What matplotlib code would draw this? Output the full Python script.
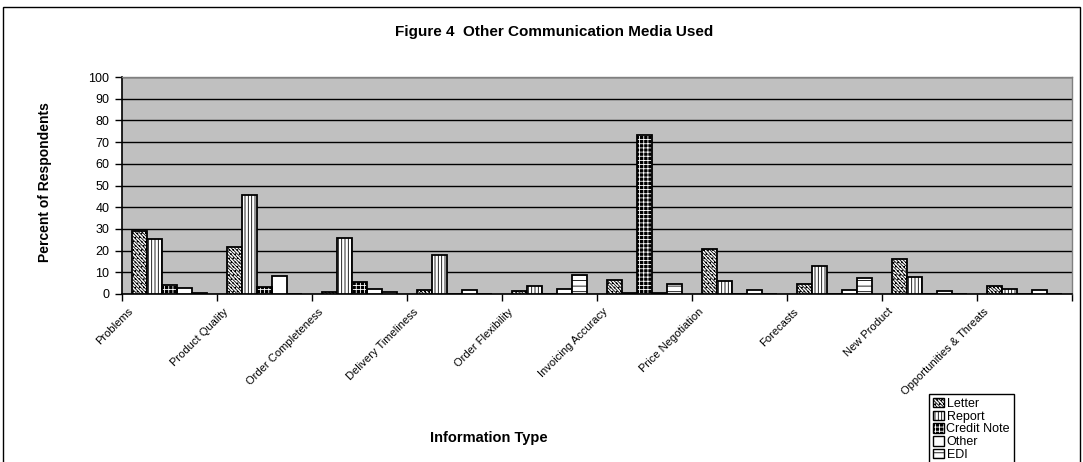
import numpy as np
import matplotlib.pyplot as plt
import matplotlib.transforms as mtransforms
from matplotlib.patches import Patch, Rectangle
from matplotlib.legend_handler import HandlerTuple

plt.rcParams['font.family'] = ['Liberation Sans', 'DejaVu Sans']
plt.rcParams['hatch.linewidth'] = 0.6

categories = ['Problems', 'Product Quality', 'Order Completeness',
              'Delivery Timeliness', 'Order Flexibility', 'Invoicing Accuracy',
              'Price Negotiation', 'Forecasts', 'New Product',
              'Opportunities & Threats']
series_names = ['Letter', 'Report', 'Credit Note', 'Other', 'EDI']

letter = [29.2, 21.5, 0.8, 2.0, 1.5, 6.3, 20.8, 4.8, 16.2, 3.7]
report = [25.4, 45.5, 25.7, 18.0, 3.5, 0.5, 5.8, 13.1, 7.7, 2.2]
credit_note = [4.3, 3.4, 5.4, 0.0, 0.0, 73.3, 0.0, 0.0, 0.0, 0.0]
other = [2.9, 8.2, 2.2, 1.8, 2.2, 0.6, 1.8, 2.0, 1.2, 1.8]
edi = [0.3, 0.0, 0.8, 0.0, 8.8, 4.5, 0.0, 7.5, 0.0, 0.0]

series = [letter, report, credit_note, other, edi]
# (face, hatch, hatch colour) per series
styles = [
    ('white', '\\\\\\\\\\\\\\\\\\\\....', 'black'),
    ('white', '|||||', 'black'),
    ('black', '++++', 'white'),
    ('white', '', 'black'),
    ('white', '---', 'black'),
]

W, H = 1083, 462
fig = plt.figure(figsize=(W / 100, H / 100), dpi=100)
ax = fig.add_axes([122 / W, 1 - 294 / H, (1072 - 122) / W, (294 - 77) / H])
ax.set_facecolor('#C0C0C0')

x = np.arange(len(categories))
bw = 0.158
for j, vals in enumerate(series):
    face, hatch, hcol = styles[j]
    pos = x + (j - 2) * bw
    if hcol != 'black':
        # hatch drawn in its own colour, outline laid on top
        ax.bar(pos, vals, bw, color=face, edgecolor=hcol, hatch=hatch,
               linewidth=0, zorder=3)
        ax.bar(pos, vals, bw, fill=False, edgecolor='black', linewidth=1.3,
               zorder=4)
    else:
        ax.bar(pos, vals, bw, color=face, edgecolor='black', hatch=hatch,
               linewidth=1.3, zorder=3)

ax.set_xlim(-0.5, len(categories) - 0.5)
ax.set_ylim(0, 100)
ax.set_yticks(np.arange(0, 101, 10))
ax.tick_params(axis='y', labelsize=9, length=5, width=1, pad=4)
ax.yaxis.grid(True, color='black', linewidth=1, zorder=0)
ax.set_axisbelow(True)

# tick marks sit on the category boundaries, labels are drawn separately
ax.set_xticks(np.arange(len(categories) + 1) - 0.5)
ax.set_xticklabels([])
ax.tick_params(axis='x', length=5, width=1)

for s in ['left', 'bottom']:
    ax.spines[s].set_color('black')
    ax.spines[s].set_linewidth(1.2)
for s in ['top', 'right']:
    ax.spines[s].set_color('#808080')
    ax.spines[s].set_linewidth(1)

offset = mtransforms.ScaledTranslation(-0.38, -0.16, fig.dpi_scale_trans)
for i, name in enumerate(categories):
    ax.text(i, 0, name, transform=ax.get_xaxis_transform() + offset,
            rotation=45, ha='right', va='center', rotation_mode='anchor',
            fontsize=8)

fig.text(554 / W, 1 - 32 / H, 'Figure 4  Other Communication Media Used',
         ha='center', va='center', fontsize=11, weight='bold')
fig.text(45 / W, 1 - 182 / H, 'Percent of Respondents', rotation=90,
         ha='center', va='center', fontsize=10, weight='bold')
fig.text(489 / W, 1 - 438 / H, 'Information Type', ha='center', va='center',
         fontsize=10.5, weight='bold')

# outer chart frame (bottom edge runs off the image)
fig.add_artist(Rectangle((3 / W, -0.05), (1080 - 3) / W, 1.05 - 7 / H,
                         fill=False, edgecolor='black', linewidth=1,
                         transform=fig.transFigure))

handles = []
for j, name in enumerate(series_names):
    face, hatch, hcol = styles[j]
    if hcol != 'black':
        handles.append((Patch(facecolor=face, edgecolor=hcol, hatch=hatch,
                              linewidth=0),
                        Patch(fill=False, edgecolor='black', linewidth=1)))
    else:
        handles.append(Patch(facecolor=face, edgecolor='black', hatch=hatch,
                             linewidth=1))
fig.legend(handles, series_names, loc='upper left',
           bbox_to_anchor=(929 / W, 1 - 394 / H),
           bbox_transform=fig.transFigure, borderaxespad=0,
           handler_map={tuple: HandlerTuple(ndivide=1, pad=0)},
           fontsize=9, frameon=True, fancybox=False, edgecolor='black',
           framealpha=1, handlelength=0.9, handleheight=0.8,
           handletextpad=0.2, labelspacing=0.05, borderpad=0.3)

fig.savefig('out.png', dpi=100)
